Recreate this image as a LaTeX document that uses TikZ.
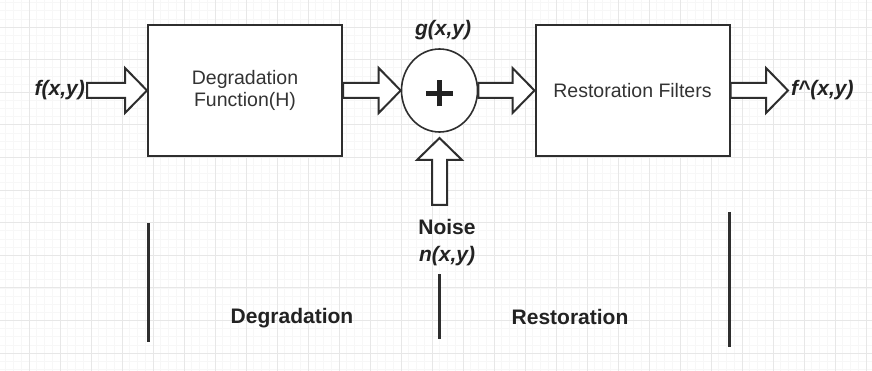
\documentclass[tikz,border=0pt]{standalone}
\usepackage{fontspec}
\setmainfont{Liberation Sans}
\usetikzlibrary{calc, shapes.geometric}

% hollow block arrow from #1 to #2
\newcommand{\blockarrow}[2]{%
  \coordinate (ah) at ($(#2)!22pt!(#1)$);
  \draw[block arrow] ($(#1)!7.5pt!90:(#2)$) -- ($(ah)!7.5pt!-90:(#1)$)
    -- ($(ah)!22.5pt!-90:(#1)$) -- (#2) -- ($(ah)!22.5pt!90:(#1)$)
    -- ($(ah)!7.5pt!90:(#1)$) -- ($(#1)!7.5pt!-90:(#2)$) -- cycle;}

\begin{document}
\begin{tikzpicture}
    [x=1pt, y=-1pt, line join=miter,
    % Styles
    grid minor/.style={draw=gray!6, line width=0.6pt},
    grid major/.style={draw=gray!19, line width=0.9pt},
    block/.style={draw=linecolor, line width=2pt, fill=white, align=center,
        text=boxtext, font=\fontsize{19.5}{22}\selectfont,
        minimum width=194pt, minimum height=131pt},
    adder/.style={ellipse, draw=linecolor, line width=1.6pt, fill=white,
        minimum width=76pt, minimum height=83pt, inner sep=0pt},
    plus sign/.style={draw=labeltext, line width=4.5pt},
    block arrow/.style={draw=linecolor, line width=2pt, fill=white},
    signal/.style={font=\fontsize{21}{27}\selectfont\bfseries\itshape, text=labeltext},
    stage/.style={font=\fontsize{21}{27}\selectfont\bfseries, text=labeltext},
    divider/.style={draw=linecolor, line width=3pt}]

    % Colors
    \definecolor{linecolor}{HTML}{2E2E2E}
    \definecolor{boxtext}{HTML}{333333}
    \definecolor{labeltext}{HTML}{222222}

    \useasboundingbox (0,0) rectangle (872,371);
    \clip (0,0) rectangle (872,371);

    % Grid
    \fill[white] (0,0) rectangle (872,371);
    \foreach \k in {0,...,112}
        \draw[grid minor] ({5.75+7.75*\k},0) -- ({5.75+7.75*\k},371);
    \foreach \k in {0,...,45}
        \draw[grid minor] (0,{2.55+8.15*\k}) -- (872,{2.55+8.15*\k});
    \foreach \k in {0,...,27}
        \draw[grid major] ({29+31*\k},0) -- ({29+31*\k},371);
    \foreach \k in {0,...,10}
        \draw[grid major] (0,{27+32.6*\k}) -- (872,{27+32.6*\k});

    % Blocks
    \node[block] (degrade) at (245,90.5) {Degradation\\Function(H)};
    \node[block] (restore) at (632.5,90.5) {Restoration Filters};
    \node[adder] (sum) at (439.5,90.5) {};
    \coordinate (plus) at ([yshift=-3pt]sum.center);
    \draw[plus sign] ([xshift=-13.5pt]plus) -- ([xshift=13.5pt]plus)
        ([yshift=-13pt]plus) -- ([yshift=13pt]plus);

    % Coordinates
    \coordinate (f in) at (87,90.5);
    \coordinate (f out) at (788,90.5);
    \coordinate (noise in) at (439.5,205);
    \coordinate (noise tip) at (439.5,138);

    % Arrows
    \blockarrow{f in}{degrade.west}
    \blockarrow{degrade.east}{sum.west}
    \blockarrow{sum.east}{restore.west}
    \blockarrow{restore.east}{f out}
    \blockarrow{noise in}{noise tip}

    % Labels
    \node[signal, anchor=east, inner sep=2pt] (f label) at (f in) {f(x,y)};
    \node[signal] (g label) at (443,30) {g(x,y)};
    \node[signal, anchor=west, inner sep=3pt] (fhat label) at (f out) {f\textasciicircum(x,y)};
    \node[stage, align=center] (noise label) at (447,243) {Noise\\\itshape n(x,y)};

    % Stages
    \coordinate (div a top) at (148,223);
    \coordinate (div a bot) at (148,342);
    \coordinate (div b top) at (439,274);
    \coordinate (div b bot) at (439,339);
    \coordinate (div c top) at (729,212);
    \coordinate (div c bot) at (729,347);
    \draw[divider] (div a top) -- (div a bot);
    \draw[divider] (div b top) -- (div b bot);
    \draw[divider] (div c top) -- (div c bot);

    \node[stage] (degr label) at (292,318) {Degradation};
    \node[stage] (rest label) at (570,317) {Restoration};

\end{tikzpicture}
\end{document}
